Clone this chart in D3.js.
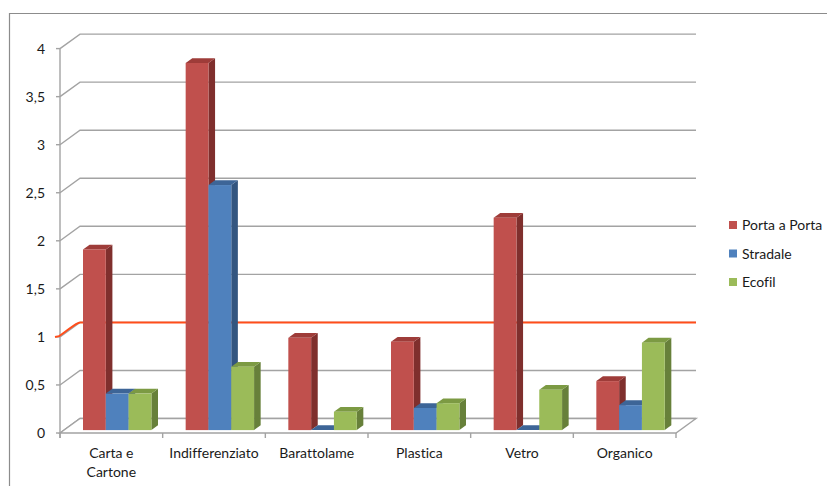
<!DOCTYPE html>
<html>
<head>
<meta charset="utf-8">
<script src="https://cdn.jsdelivr.net/npm/d3@7"></script>
<style>
  html, body { margin: 0; padding: 0; background: #fff; }
  svg { display: block; font-family: Lato, "Open Sans", sans-serif; font-variant-ligatures: none; }
</style>
</head>
<body>
<svg id="chart" width="827" height="486"></svg>
<script>
// Waste collection per category, three collection methods
const categories = ["Carta e\nCartone", "Indifferenziato", "Barattolame", "Plastica", "Vetro", "Organico"];
const seriesNames = ["Porta a Porta", "Stradale", "Ecofil"];
const portaAPorta = [1.88, 3.82, 0.96, 0.92, 2.21, 0.51];
const stradale    = [0.38, 2.55, 0.00, 0.23, 0.00, 0.26];
const ecofil      = [0.38, 0.66, 0.19, 0.28, 0.42, 0.91];
const yTicks      = [0, 0.5, 1, 1.5, 2, 2.5, 3, 3.5, 4];
const yTickLabels = ["0", "0,5", "1", "1,5", "2", "2,5", "3", "3,5", "4"];
const threshold   = 1;

const seriesValues = [portaAPorta, stradale, ecofil];
const faceColors = [
  { front: "#C0504D", top: "#9E3C39", side: "#7F2F2D" },
  { front: "#4F81BD", top: "#3D6597", side: "#33557F" },
  { front: "#9BBB59", top: "#7C9A43", side: "#67803A" }
];

const svg = d3.select("#chart");

// Oblique 3D projection: depth d in [0,1] shifts points right and up
const DX = 20, DY = -14.5;
const x = d3.scaleBand().domain(categories).range([60, 676]).paddingInner(0).paddingOuter(0);
const xs = d3.scaleBand().domain(seriesNames).range([19, 19 + 68.4]);
const y = d3.scaleLinear().domain([0, 4]).range([433, 433 - 384.4]);
const proj = (px, v, d) => [px + DX * d, y(v) + DY * d];

const x0 = x.range()[0], x1 = x.range()[1];
const gridColor = "#a3a3a3";

// Outer chart border
svg.append("path")
  .attr("d", "M9.5,490 L9.5,13.5 L830,13.5")
  .attr("fill", "none").attr("stroke", "#8c8c8c").attr("stroke-width", 1.2);

// Back wall gridlines and side wall diagonals
const grid = svg.append("g").attr("fill", "none").attr("stroke", gridColor).attr("stroke-width", 1.4);
yTicks.forEach(v => {
  const a = proj(x0, v, 0), b = proj(x0, v, 1), c = proj(x1, v, 1);
  grid.append("path").attr("d", `M${a}L${b}L${c}`);
});

// Floor outline
const f0 = proj(x0, 0, 0), f1 = proj(x1, 0, 0), f2 = proj(x1, 0, 1), f3 = proj(x0, 0, 1);
svg.append("path")
  .attr("d", `M${f0}L${f1}L${f2}L${f3}Z`)
  .attr("fill", "#fff").attr("stroke", gridColor).attr("stroke-width", 1.4);

// Vertical value axis with ticks
svg.append("line")
  .attr("x1", x0).attr("x2", x0).attr("y1", y(4)).attr("y2", y(0) + 5)
  .attr("stroke", gridColor).attr("stroke-width", 1.4);
svg.append("g").selectAll("line").data(yTicks).join("line")
  .attr("x1", x0 - 4).attr("x2", x0).attr("y1", d => y(d)).attr("y2", d => y(d))
  .attr("stroke", gridColor).attr("stroke-width", 1.4);

// Category ticks under the floor
const catEdges = categories.map(c => x(c)).concat([x1]);
svg.append("g").selectAll("line").data(catEdges).join("line")
  .attr("x1", d => d).attr("x2", d => d).attr("y1", y(0)).attr("y2", y(0) + 5)
  .attr("stroke", gridColor).attr("stroke-width", 1.4);

// Reference line at value 1, running along the side wall then the back wall
const tA = proj(x0 - 5, threshold, 0), tB = proj(x0 - 2, threshold, 0.05);
const tC = proj(x0, threshold, 1), tD = proj(x1, threshold, 1);
svg.append("path")
  .attr("d", `M${tA}L${tB}C${[tB[0] + 8, tB[1] - 5]} ${[tC[0] - 4, tC[1]]} ${tC}L${tD}`)
  .attr("fill", "none").attr("stroke", "#FF4D1A").attr("stroke-width", 2);

// 3D columns
const dFront = 0.2, dBack = 0.53;
const bars = svg.append("g");
categories.forEach((c, ci) => {
  seriesNames.forEach((s, si) => {
    const v = seriesValues[si][ci];
    const left = x(c) + xs(s), right = left + xs.bandwidth();
    const col = faceColors[si];
    const p = (px, val, d) => proj(px, val, d);
    const g = bars.append("g");
    // right side face
    g.append("path")
      .attr("d", `M${p(right, 0, dFront)}L${p(right, 0, dBack)}L${p(right, v, dBack)}L${p(right, v, dFront)}Z`)
      .attr("fill", col.side);
    // top face
    g.append("path")
      .attr("d", `M${p(left, v, dFront)}L${p(right, v, dFront)}L${p(right, v, dBack)}L${p(left, v, dBack)}Z`)
      .attr("fill", col.top);
    // front face
    const fl = p(left, v, dFront), fr = p(right, 0, dFront);
    g.append("rect")
      .attr("x", fl[0]).attr("y", fl[1])
      .attr("width", fr[0] - fl[0]).attr("height", Math.max(0, fr[1] - fl[1]))
      .attr("fill", col.front);
  });
});

// Value axis labels
svg.append("g").selectAll("text").data(yTicks).join("text")
  .attr("x", 45).attr("y", d => y(d)).attr("dy", "0.36em")
  .attr("text-anchor", "end").attr("font-size", 14).attr("fill", "#1a1a1a")
  .text((d, i) => yTickLabels[i]);

// Category labels
const catLabels = svg.append("g").attr("font-size", 14).attr("fill", "#1a1a1a").attr("text-anchor", "middle");
categories.forEach(c => {
  const t = catLabels.append("text").attr("x", x(c) + x.bandwidth() / 2).attr("y", 458);
  c.split("\n").forEach((line, li) => {
    t.append("tspan").attr("x", x(c) + x.bandwidth() / 2).attr("dy", li === 0 ? 0 : 19).text(line);
  });
});

// Legend
const legend = svg.append("g").attr("font-size", 14).attr("fill", "#1a1a1a");
const legendY = d3.scalePoint().domain(seriesNames).range([225, 282]);
seriesNames.forEach((s, i) => {
  legend.append("rect").attr("x", 729).attr("y", legendY(s) - 4).attr("width", 8).attr("height", 8)
    .attr("fill", faceColors[i].front);
  legend.append("text").attr("x", 742).attr("y", legendY(s)).attr("dy", "0.36em").text(s);
});
</script>
</body>
</html>
